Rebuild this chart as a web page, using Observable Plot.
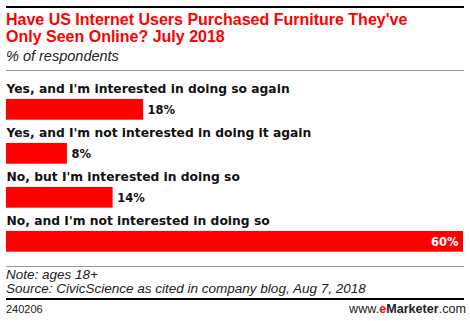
<!DOCTYPE html>
<html><head><meta charset="utf-8">
<script src="https://cdn.jsdelivr.net/npm/d3@7"></script>
<script src="https://cdn.jsdelivr.net/npm/@observablehq/plot@0.6"></script>
<style>
body{margin:0;background:#fff;font-family:"Liberation Sans",Arial,sans-serif;}
#wrap{position:relative;width:470px;height:321px;overflow:hidden;}
.rule{position:absolute;left:6px;width:458px;}
#title{position:absolute;left:6px;top:12px;font-weight:bold;font-size:16px;line-height:16.5px;color:#f00;width:460px;}
#sub{position:absolute;left:6px;top:48px;font-style:italic;font-size:14.5px;color:#222;}
#chart{position:absolute;left:0;top:72px;}
#note{position:absolute;left:6px;top:268px;font-style:italic;font-size:13.5px;line-height:13.5px;color:#222;}
#id{position:absolute;left:6px;top:303px;font-size:11px;color:#222;}
#brand{position:absolute;right:4px;top:302px;font-size:12.6px;color:#222;}
</style></head>
<body><div id="wrap">
<div class="rule" style="top:6px;height:2px;background:#000"></div>
<div id="title">Have US Internet Users Purchased Furniture They've<br>Only Seen Online? July 2018</div>
<div id="sub">% of respondents</div>
<div class="rule" style="top:70px;height:1px;background:#999"></div>
<div id="chart"></div>
<div class="rule" style="top:266px;height:1px;background:#999"></div>
<div id="note">Note: ages 18+<br>Source: CivicScience as cited in company blog, Aug 7, 2018</div>
<div class="rule" style="top:298px;height:2px;background:#000"></div>
<div id="id">240206</div>
<div id="brand">www.<b style="color:#f00">e</b><b>Marketer</b>.com</div>
</div>
<script>
const categories = [
  "Yes, and I'm interested in doing so again",
  "Yes, and I'm not interested in doing it again",
  "No, but I'm interested in doing so",
  "No, and I'm not interested in doing so"
];
const values = [18, 8, 14, 60];
const data = categories.map((c, i) => ({category: c, value: values[i]}));
const maxV = d3.max(values);

const chart = Plot.plot({
  width: 470,
  height: 190,
  marginLeft: 6,
  marginRight: 7,
  marginTop: 6,
  marginBottom: 6.8,
  x: {domain: [0, maxV], axis: null},
  y: {domain: categories, axis: null, padding: 0},
  marks: [
    Plot.barX(data, {x: "value", y: "category", fill: "#ff0000", insetTop: 20, insetBottom: 3.3}),
    Plot.text(data, {x: 0, y: "category", text: "category", textAnchor: "start", dy: -12,
      fontFamily: "DejaVu Sans", fontWeight: "bold", fontSize: 12.3, fill: "#111"}),
    Plot.text(data.filter(d => d.value !== maxV), {x: "value", y: "category", text: d => d.value + "%",
      textAnchor: "start", dx: 4, dy: 8.5, fontFamily: "DejaVu Sans", fontWeight: "bold", fontSize: 11.5, fill: "#111"}),
    Plot.text(data.filter(d => d.value === maxV), {x: "value", y: "category", text: d => d.value + "%",
      textAnchor: "end", dx: -5, dy: 8.5, fontFamily: "DejaVu Sans", fontWeight: "bold", fontSize: 11.5, fill: "#fff"})
  ],
  style: {fontFamily: "'Liberation Sans', Arial, sans-serif", background: "transparent"}
});
document.getElementById("chart").appendChild(chart);
</script>
</body></html>
